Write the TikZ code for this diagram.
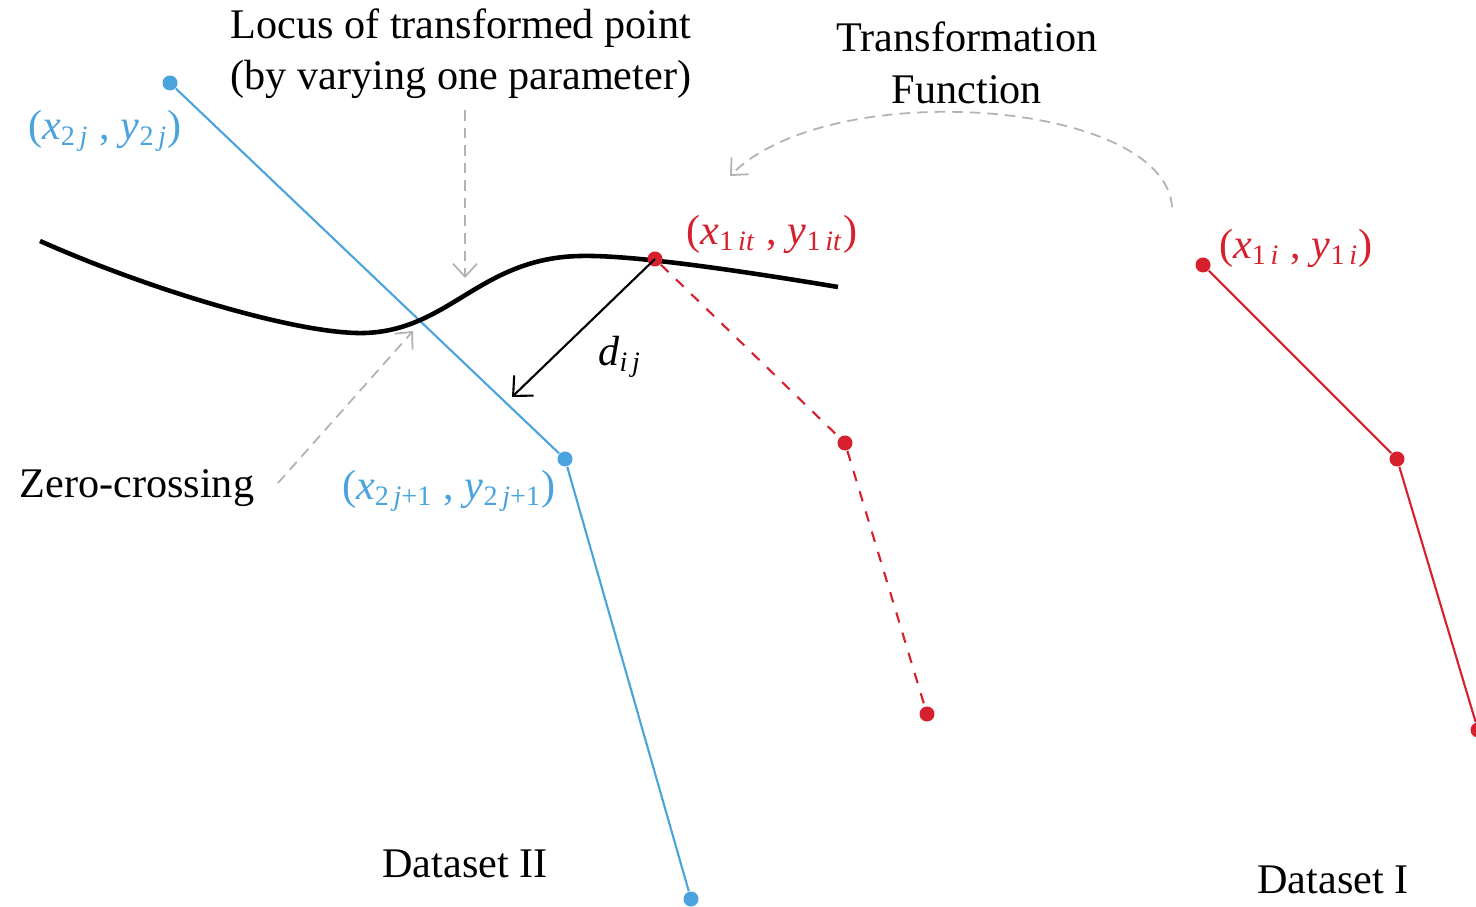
\documentclass[tikz,border=0pt]{standalone}
\usepackage{fontspec}
\setmainfont{Liberation Serif}
\usepackage{xcolor}
\usetikzlibrary{arrows.meta}

\definecolor{setblue}{RGB}{74,163,220}
\definecolor{setred}{RGB}{214,32,46}
\definecolor{hintgray}{RGB}{178,178,178}

% italic symbol with a subscript, set in text italics
\newcommand{\symsub}[2]{\textit{#1}\textsubscript{#2}}

\begin{document}
\begin{tikzpicture}[
    x=0.01cm, y=-0.01cm,
    font=\fontsize{12}{14.6}\selectfont,
    lab/.style={inner sep=1pt},
    dot/.style={circle, fill, inner sep=0pt, minimum size=0.15cm},
    hint/.style={hintgray, densely dashed, line width=0.5pt,
      -{Straight Barb[length=1.3mm,width=2.4mm]}},
  ]
  \useasboundingbox (0,0) rectangle (1476,907);

  %% ---- dataset II (blue) ----------------------------------------------
  \node[dot, setblue] (b1) at (170,83) {};
  \node[dot, setblue] (b2) at (565,459) {};
  \node[dot, setblue] (b3) at (691,899) {};
  \draw[setblue, line width=0.6pt] (b1) -- (b2) -- (b3);
  \node[lab, setblue] (b1lab) at (105,131)
    {(\symsub{x}{2\,\textit{j}} , \symsub{y}{2\,\textit{j}})};
  \node[lab, setblue] (b2lab) at (449,491)
    {(\symsub{x}{2\,\textit{j}+1} , \symsub{y}{2\,\textit{j}+1})};

  %% ---- dataset I (red) and its transformed copy ------------------------
  \node[dot, setred] (r1) at (1203,265) {};
  \node[dot, setred] (r2) at (1397,459) {};
  \node[dot, setred] (r3) at (1478,730) {};
  \draw[setred, line width=0.6pt] (r1) -- (r2) -- (r3);
  \node[lab, setred] (r1lab) at (1296,248)
    {(\symsub{x}{1\,\textit{i}} , \symsub{y}{1\,\textit{i}})};

  \node[dot, setred] (t2) at (845,443) {};
  \node[dot, setred] (t3) at (927,714) {};

  %% ---- locus of the transformed point ----------------------------------
  \draw[line width=1.3pt] (40,241) .. controls (150,290) and (300,335) .. (365,333)
    .. controls (450,330) and (480,258) .. (580,256)
    .. controls (620,255) and (700,264) .. (838,287);
  \node[dot, setred] (t1) at (655,259) {};
  \draw[setred, dashed, line width=0.6pt] (t1) -- (t2) -- (t3);
  \node[lab, setred] (t1lab) at (772,234)
    {(\symsub{x}{1\,\textit{it}} , \symsub{y}{1\,\textit{it}})};

  %% ---- distance to the other dataset -----------------------------------
  \coordinate (foot) at (512,397);
  \draw[line width=0.6pt, -{Straight Barb[length=1.5mm,width=2.8mm]}]
    (t1.center) -- (foot);
  \node[lab] (dlab) at (620,357) {\symsub{d}{\textit{i\,j}}};

  %% ---- annotations -------------------------------------------------------
  \node[lab, align=center] (locus) at (461,54)
    {Locus of transformed point\\(by varying one parameter)};
  \coordinate (locustip) at (465,278);
  \draw[hint] (465,110) -- (locustip);

  \node[lab] (zero) at (137,488) {Zero-crossing};
  \coordinate (zerotip) at (413,331);
  \draw[hint] (278,483) -- (zerotip);

  \node[lab, align=center] (trans) at (967,63) {Transformation\\Function};
  \coordinate (transtail) at (1172,207);
  \coordinate (transtip) at (730,176);
  \draw[hint] (transtail) .. controls (1165,100) and (830,75) .. (transtip);

  \node[lab] (set2) at (465,864) {Dataset II};
  \node[lab] (set1) at (1333,880) {Dataset I};
\end{tikzpicture}
\end{document}
